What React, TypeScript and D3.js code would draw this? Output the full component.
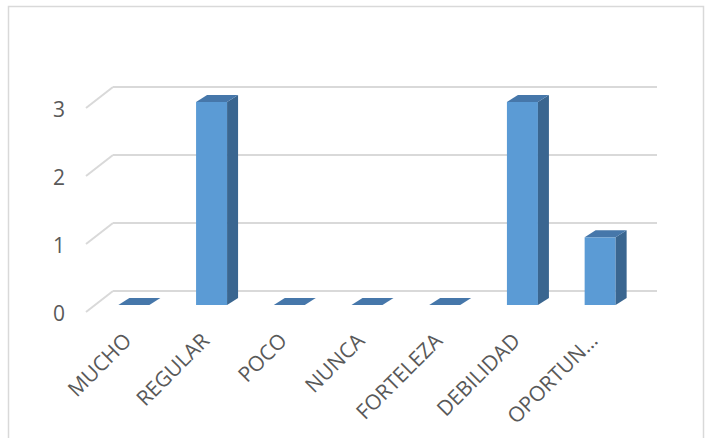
import React from "react";
import * as d3 from "d3";

const categories = ["MUCHO", "REGULAR", "POCO", "NUNCA", "FORTELEZA", "DEBILIDAD", "OPORTUN…"];
const values = [0, 3, 0, 0, 0, 3, 1];
const yTicks = [0, 1, 2, 3];

const W = 708;
const H = 438;

export default function App() {
  const x = d3.scaleBand<string>().domain(categories).range([86, 630]).paddingInner(0).paddingOuter(0);
  const yFront = d3.scaleLinear().domain([0, 3]).range([305, 102]);
  const yBack = d3.scaleLinear().domain([0, 3]).range([291, 87]);
  const floorDx = 27;
  const floorDy = -21;
  const barW = 31;
  const bdx = 11;
  const bdy = -7;
  const font = "'Open Sans', 'DejaVu Sans', sans-serif";

  const front = "#5B9BD5";
  const top = "#4677AA";
  const side = "#3A6690";

  return (
    <svg width={W} height={H} style={{ position: "absolute", left: 0, top: 0, background: "#fff" }}>
      <rect x={8.5} y={6.5} width={695} height={445} fill="#fff" stroke="#D9D9D9" strokeWidth={1.5} />
      {yTicks.map((t) => {
        const yb = yBack(t);
        const xb = 86 + floorDx;
        return (
          <g key={t}>
            <line x1={xb} y1={yb} x2={657} y2={yb} stroke="#D9D9D9" strokeWidth={2} />
            <line x1={xb} y1={yb} x2={86} y2={yb - floorDy} stroke="#D9D9D9" strokeWidth={2} />
            <text
              x={65}
              y={yb - floorDy + 1}
              textAnchor="end"
              dominantBaseline="central"
              fontFamily={font}
              fontSize={21}
              fill="#595959"
            >
              {t}
            </text>
          </g>
        );
      })}
      {categories.map((c, i) => {
        const v = values[i];
        const cx = (x(c) as number) + x.bandwidth() / 2 + 9;
        const x0 = cx - barW / 2;
        const x1 = x0 + barW;
        const yb = yFront(0);
        const yt = yFront(v);
        const topPts = `${x0},${yt} ${x1},${yt} ${x1 + bdx},${yt + bdy} ${x0 + bdx},${yt + bdy}`;
        const sidePts = `${x1},${yt} ${x1 + bdx},${yt + bdy} ${x1 + bdx},${yb + bdy} ${x1},${yb}`;
        return (
          <g key={c}>
            {v > 0 && <rect x={x0} y={yt} width={barW} height={yb - yt} fill={front} />}
            {v > 0 && <polygon points={sidePts} fill={side} />}
            <polygon points={topPts} fill={top} />
          </g>
        );
      })}
      {categories.map((c) => {
        const cx = (x(c) as number) + x.bandwidth() / 2 + 9;
        const ax = cx - 1;
        const ay = 342;
        return (
          <text
            key={"l" + c}
            x={ax}
            y={ay}
            textAnchor="end"
            transform={`rotate(-45, ${ax}, ${ay})`}
            fontFamily={font}
            fontSize={21}
            fill="#595959"
          >
            {c}
          </text>
        );
      })}
    </svg>
  );
}
